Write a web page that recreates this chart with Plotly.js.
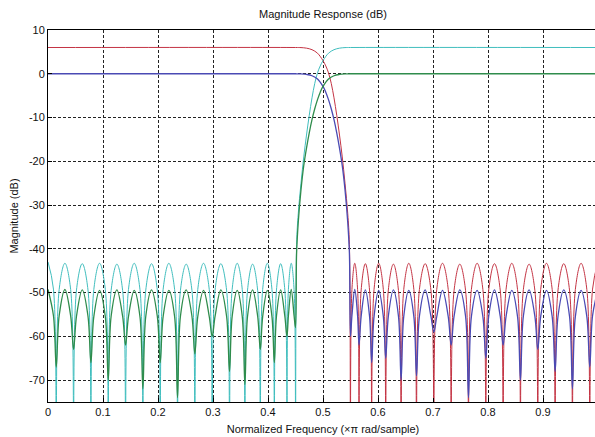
<!DOCTYPE html>
<html>
<head>
<meta charset="utf-8">
<script src="https://cdn.plot.ly/plotly-3.0.1.min.js"></script>
<style>
html,body{margin:0;padding:0;overflow:hidden;background:#fff;}
#chart{width:600px;height:437px;}
</style>
</head>
<body>
<div id="chart"></div>
<script>
// Lowpass filters (red: 6 dB gain, blue: 0 dB gain)
const freqLow = [
0, 0.45, 0.46, 0.47, 0.48, 0.49, 0.50, 0.505, 0.51, 0.515, 0.52, 0.525, 0.53, 0.535, 0.54, 0.545, 0.548, 0.55,
0.5526, 0.55775, 0.5629, 0.5655,
0.5694, 0.5770, 0.5846, 0.5885,
0.5928, 0.60125, 0.6097, 0.614,
0.6188, 0.628, 0.6372, 0.642,
0.6468, 0.656, 0.6652, 0.670,
0.6753, 0.68575, 0.6962, 0.7015,
0.7068, 0.71725, 0.7277, 0.733,
0.7383, 0.74875, 0.7592, 0.7645,
0.7698, 0.78025, 0.7907, 0.796,
0.8013, 0.81175, 0.8222, 0.8275,
0.8328, 0.84325, 0.8537, 0.859,
0.8643, 0.87475, 0.8852, 0.8905,
0.8958, 0.90625, 0.9167, 0.922,
0.9273, 0.93775, 0.9482, 0.9535,
0.9588, 0.96925, 0.9797, 0.985,
0.9901, 1.0
];
const magRed = [
6.0, 6.0, 5.98, 5.85, 5.5, 4.7, 3.0, 1.8, 0.2, -2.2, -5.5, -9.5, -14, -19, -25, -32, -39, -100,
-49.3, -43.3, -49.3, -100,
-49.4, -43.4, -49.4, -100,
-49.3, -43.3, -49.3, -100,
-49.4, -43.5, -49.5, -100,
-49.3, -43.3, -49.3, -100,
-49.3, -43.4, -49.4, -100,
-49.3, -43.3, -49.3, -100,
-49.5, -43.5, -49.5, -100,
-49.3, -43.3, -49.3, -100,
-49.4, -43.4, -49.4, -100,
-49.3, -43.3, -49.3, -100,
-49.3, -43.5, -49.5, -100,
-49.3, -43.3, -49.3, -100,
-49.4, -43.4, -49.4, -100,
-49.3, -43.3, -49.3, -100,
-49.2, -43.0
];
const magBlue = [
0, 0, -0.03, -0.15, -0.45, -1.2, -2.9, -4.2, -5.9, -8.0, -10.5, -13.5, -17, -21, -26.5, -34, -41, -60,
-55.3, -49.3, -55.3, -62,
-55.4, -49.4, -55.4, -66,
-55.5, -49.5, -55.5, -65,
-55.4, -49.4, -55.4, -70,
-55.5, -49.5, -55.5, -69,
-55.4, -49.4, -55.4, -59,
-55.5, -49.5, -55.5, -62,
-55.4, -49.4, -55.4, -74,
-55.5, -49.5, -55.5, -65,
-55.4, -49.4, -55.4, -62,
-55.5, -49.5, -55.5, -70,
-55.4, -49.4, -55.4, -63,
-55.5, -49.5, -55.5, -68,
-55.4, -49.4, -55.4, -72,
-55.5, -49.5, -55.5, -67,
-55.3, -49.3
];

// Highpass filters (cyan: 6 dB gain, green: 0 dB gain)
const freqHigh = [
0, 0.0099, 0.015,
0.0203, 0.03075, 0.0412, 0.0465,
0.0518, 0.06225, 0.0727, 0.078,
0.0833, 0.09375, 0.1042, 0.1095,
0.1148, 0.12525, 0.1357, 0.141,
0.1463, 0.15675, 0.1672, 0.1725,
0.1778, 0.18825, 0.1987, 0.204,
0.2093, 0.21975, 0.2302, 0.2355,
0.2408, 0.25125, 0.2617, 0.267,
0.2723, 0.28275, 0.2932, 0.2985,
0.3038, 0.31425, 0.3247, 0.330,
0.3348, 0.344, 0.3532, 0.358,
0.3628, 0.372, 0.3812, 0.386,
0.3903, 0.39875, 0.4072, 0.4115,
0.4154, 0.423, 0.4306, 0.4345,
0.4371, 0.44225, 0.4474, 0.45,
0.452, 0.455, 0.46, 0.465, 0.47, 0.475, 0.48, 0.485, 0.49, 0.495, 0.50, 0.51, 0.52, 0.53, 0.54, 0.55, 1.0
];
const magCyan = [
-43.0, -49.2, -100,
-49.3, -43.3, -49.3, -100,
-49.4, -43.4, -49.4, -100,
-49.3, -43.3, -49.3, -100,
-49.5, -43.5, -49.5, -100,
-49.3, -43.3, -49.3, -100,
-49.4, -43.4, -49.4, -100,
-49.3, -43.3, -49.3, -100,
-49.5, -43.5, -49.5, -100,
-49.3, -43.3, -49.3, -100,
-49.4, -43.4, -49.4, -100,
-49.3, -43.3, -49.3, -100,
-49.4, -43.5, -49.5, -100,
-49.3, -43.3, -49.3, -100,
-49.4, -43.4, -49.4, -100,
-49.3, -43.3, -49.3, -100,
-39, -32, -25, -19, -14, -9.5, -5.5, -2.2, 0.2, 1.8, 3.0, 4.7, 5.5, 5.85, 5.98, 6.0, 6.0
];
const magGreen = [
-49.3, -55.3, -67,
-55.3, -49.3, -55.3, -63,
-55.4, -49.4, -55.4, -66,
-55.5, -49.5, -55.5, -70,
-55.4, -49.4, -55.4, -62,
-55.5, -49.5, -55.5, -72,
-55.4, -49.4, -55.4, -66,
-55.5, -49.5, -55.5, -74,
-55.4, -49.4, -55.4, -64,
-55.5, -49.5, -55.5, -60,
-55.4, -49.4, -55.4, -68,
-55.5, -49.5, -55.5, -71,
-55.4, -49.4, -55.4, -63,
-55.5, -49.5, -55.5, -66,
-55.4, -49.4, -55.4, -60,
-55.3, -49.3, -55.3, -58,
-41, -34, -26.5, -21, -17, -13.5, -10.5, -8.0, -5.9, -4.2, -2.9, -1.2, -0.45, -0.15, -0.03, 0, 0
];

const xTickVals = [0, 0.1, 0.2, 0.3, 0.4, 0.5, 0.6, 0.7, 0.8, 0.9];
const xTickText = ['0', '0.1', '0.2', '0.3', '0.4', '0.5', '0.6', '0.7', '0.8', '0.9'];
const yTickVals = [-70, -60, -50, -40, -30, -20, -10, 0, 10];
const yTickText = ['-70', '-60', '-50', '-40', '-30', '-20', '-10', '0', '10'];

const FONT = 'Liberation Sans, Arial, sans-serif';
function tr(x, y, color, w) {
  return {x: x, y: y, type: 'scatter', mode: 'lines',
          line: {color: color, width: w, shape: 'spline', smoothing: 1},
          hoverinfo: 'skip', showlegend: false};
}
const traces = [
  tr(freqLow, magRed, '#c43444', 1),
  tr(freqHigh, magCyan, '#40bebe', 1),
  tr(freqLow, magBlue, '#4a4ab4', 1.3),
  tr(freqHigh, magGreen, '#2f8c4c', 1.3)
];

const axisCommon = {
  showline: true, mirror: true, linecolor: '#000', linewidth: 1,
  showgrid: true, gridcolor: '#222', gridwidth: 1, griddash: '3px,2px',
  zeroline: false, ticks: 'inside', ticklen: 4, tickcolor: '#000',
  tickmode: 'array', tickfont: {family: FONT, size: 11, color: '#111'}
};

const layout = {
  width: 600, height: 437,
  margin: {l: 48, r: 2, t: 30, b: 35, pad: 0},
  paper_bgcolor: '#fff', plot_bgcolor: '#fff',
  title: {text: 'Magnitude Response (dB)', font: {family: FONT, size: 11, color: '#111'},
          x: 0.5, xref: 'paper', y: 1 - 14/437, yref: 'container', yanchor: 'middle'},
  xaxis: Object.assign({}, axisCommon, {
    range: [0, 1], tickvals: xTickVals, ticktext: xTickText,
    title: {text: 'Normalized Frequency (\u00d7\u03c0 rad/sample)', font: {family: FONT, size: 11, color: '#111'}, standoff: 8}
  }),
  yaxis: Object.assign({}, axisCommon, {
    range: [-75, 10], tickvals: yTickVals, ticktext: yTickText,
    title: {text: 'Magnitude (dB)', font: {family: FONT, size: 11, color: '#111'}, standoff: 8}
  })
};

Plotly.newPlot('chart', traces, layout, {staticPlot: true, displayModeBar: false});
</script>
</body>
</html>
